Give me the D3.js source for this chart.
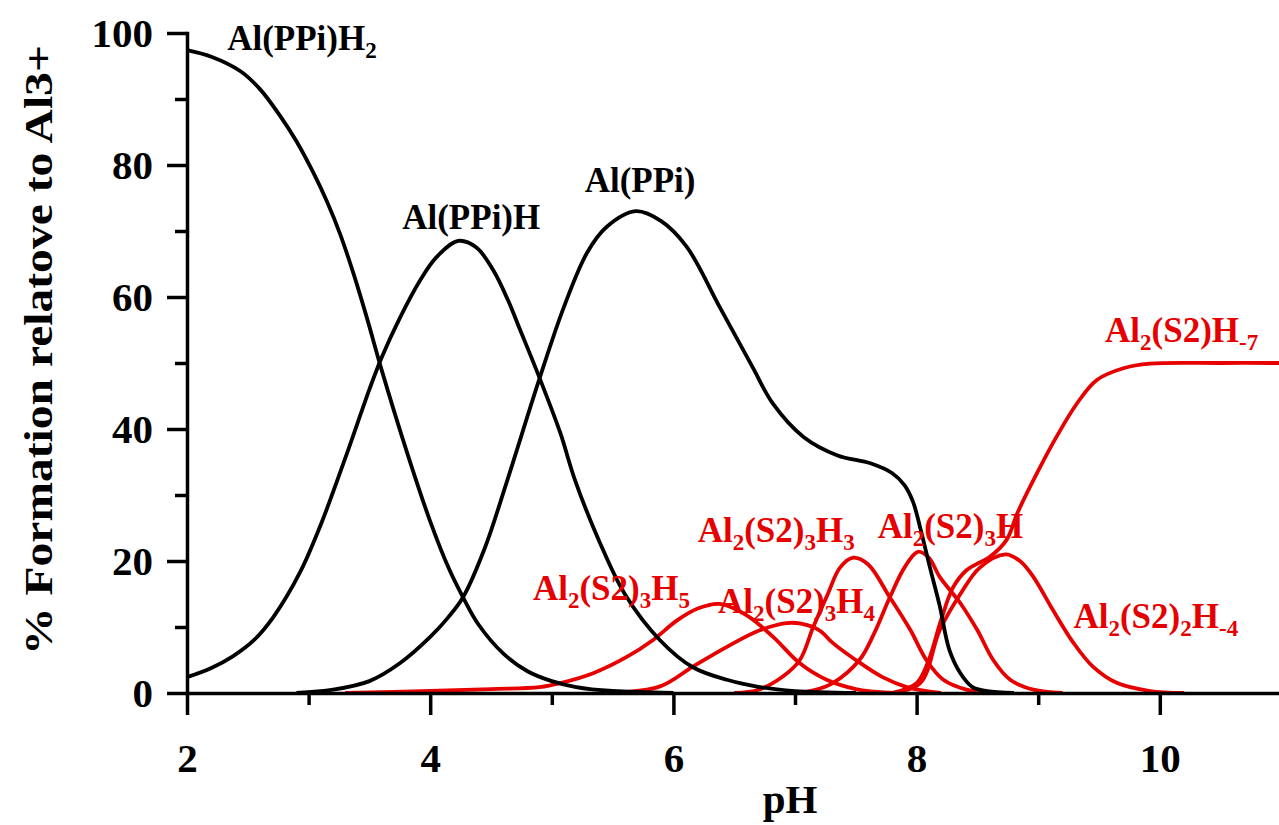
<!DOCTYPE html>
<html>
<head>
  <meta charset="utf-8">
  <title>Al speciation vs pH</title>
  <style>
    body{
      margin: 0;
      padding: 0;
      background-color: #fff;
    }
    .chart text{
      font-family: "Liberation Serif", "Times New Roman", serif;
      font-weight: bold;
    }
    .axis path, .axis line{
      stroke: #000;
      stroke-width: 3.5;
    }
    .axis text{
      font-size: 41px;
      fill: #000;
    }
    .curve{
      fill: none;
      stroke-width: 3.8;
      stroke-linejoin: round;
    }
  </style>
</head>
<body>
<svg class="chart"></svg>

<script src="https://cdn.jsdelivr.net/npm/d3@7"></script>
<script>

// tick values
var xMajor = [2, 4, 6, 8, 10],
    xMinor = [3, 5, 7, 9, 11],
    yMajor = [0, 20, 40, 60, 80, 100],
    yMinor = [10, 30, 50, 70, 90];

// [pH, % formation]
var alPPiH2 = [[2.0,97.4],[2.2,96.4],[2.44,94.2],[2.6,91.5],[2.76,87.6],[2.9,83.6],[3.04,78.8],[3.15,74.5],
  [3.26,69.5],[3.37,63.5],[3.48,56.8],[3.6,49],[3.8,37],[4.0,26],[4.15,19],[4.27,14.5],[4.4,10.3],
  [4.6,6],[4.8,3.3],[5.0,1.8],[5.2,0.9],[5.5,0.3],[6.0,0]];

var alPPiH = [[2.0,2.4],[2.2,3.8],[2.38,5.6],[2.55,8],[2.71,11.5],[2.93,18.3],[3.1,25.5],[3.3,35.5],
  [3.5,46],[3.6,50.8],[3.75,56.8],[3.92,62.6],[4.05,66],[4.23,68.5],[4.38,67.5],[4.52,64],[4.64,59.5],
  [4.74,55],[4.9,47.7],[5.07,39.4],[5.19,32.3],[5.39,23],[5.6,15],[5.89,8],[6.16,3.9],[6.44,2],
  [6.71,0.9],[7.0,0.3],[7.5,0]];

var alPPi = [[2.9,0],[3.2,0.5],[3.5,1.8],[3.75,4.5],[4.0,8.5],[4.15,11.5],[4.27,14.5],[4.45,22],
  [4.63,32],[4.9,47.7],[5.1,58.5],[5.29,66.7],[5.45,70.6],[5.69,73],[5.9,71.5],[6.11,67.6],
  [6.38,58.5],[6.65,49.4],[6.82,43.8],[7.07,38.8],[7.35,36],[7.62,34.8],[7.8,33.3],[7.9,31.5],
  [7.97,29],[8.03,25],[8.11,19],[8.19,13.2],[8.27,6.5],[8.36,3],[8.46,0.9],[8.58,0.3],[8.8,0]];

var al2S23H5 = [[3.3,0],[4.0,0.3],[4.5,0.6],[4.9,0.9],[5.07,1.5],[5.34,3],[5.62,5.5],[5.83,8],
  [6.03,11],[6.2,12.8],[6.38,13.5],[6.6,11.8],[6.82,8.5],[7.04,4.5],[7.26,2],[7.5,0.6],[7.8,0]];

var al2S23H4 = [[5.5,0],[5.89,1],[6.16,4],[6.44,7],[6.71,9.5],[6.93,10.6],[7.05,10.5],[7.2,9.5],
  [7.31,7.6],[7.5,5],[7.72,2.4],[7.92,0.9],[8.2,0]];

var al2S23H3 = [[6.5,0],[6.7,0.5],[6.9,2.5],[7.04,5],[7.15,10],[7.27,15],[7.37,19],[7.48,20.5],
  [7.6,19.5],[7.78,14.5],[7.95,9.5],[8.08,5],[8.22,2],[8.41,0.5],[8.6,0]];

var al2S23H = [[7.0,0],[7.15,0.4],[7.31,1.5],[7.53,5],[7.65,9],[7.78,14.5],[7.9,19],[8.01,21.4],
  [8.1,20.5],[8.19,17.6],[8.36,13.6],[8.5,9.5],[8.63,5],[8.77,2],[8.96,0.5],[9.2,0]];

var al2S22Hm4 = [[7.8,0],[8.03,1.5],[8.19,9.5],[8.36,15],[8.52,19],[8.73,21],[8.85,20],[8.96,17.6],
  [9.12,12.6],[9.29,7.6],[9.45,4],[9.65,1.5],[9.92,0.3],[10.2,0]];

var al2S2Hm7 = [[7.8,0],[8.0,1.5],[8.1,5],[8.2,11],[8.3,16],[8.41,18.6],[8.5,19.6],[8.6,20.6],
  [8.74,23.2],[8.83,27.3],[8.99,33.3],[9.15,38.8],[9.32,43.9],[9.48,47.4],[9.7,49.2],[9.92,49.9],
  [10.5,50],[11,50]];

var blackSeries = [alPPiH2, alPPiH, alPPi];
var redSeries = [al2S23H5, al2S23H4, al2S23H3, al2S23H, al2S22Hm4, al2S2Hm7];

// curve labels: text pieces (1 = subscript), anchored at [pH, %]
var labels = [
  {at: [2.33, 97.4], color: "#000", parts: [["Al(PPi)H"], ["2", 1]]},
  {at: [3.77, 70.3], color: "#000", parts: [["Al(PPi)H"]]},
  {at: [5.27, 75.9], color: "#000", parts: [["Al(PPi)"]]},
  {at: [4.845, 14.1], color: "red", parts: [["Al"], ["2", 1], ["(S2)"], ["3", 1], ["H"], ["5", 1]]},
  {at: [6.367, 12.1], color: "red", parts: [["Al"], ["2", 1], ["(S2)"], ["3", 1], ["H"], ["4", 1]]},
  {at: [6.2, 22.9], color: "red", parts: [["Al"], ["2", 1], ["(S2)"], ["3", 1], ["H"], ["3", 1]]},
  {at: [7.68, 23.5], color: "red", parts: [["Al"], ["2", 1], ["(S2)"], ["3", 1], ["H"]]},
  {at: [9.55, 53.2], color: "red", parts: [["Al"], ["2", 1], ["(S2)H"], ["-7", 1]]},
  {at: [9.29, 9.85], color: "red", parts: [["Al"], ["2", 1], ["(S2)"], ["2", 1], ["H"], ["-4", 1]]}
];

var W = 1279, H = 825;
var red = "#e60000";

var svg = d3.select(".chart")
    .attr("width", W)
    .attr("height", H);

svg.append("rect").attr("width", W).attr("height", H).attr("fill", "#fff");

var x = d3.scaleLinear().domain([2, 11]).range([187, 1281.4]);
var y = d3.scaleLinear().domain([0, 100]).range([693, 33]);

var line = d3.line()
    .x(function(d) { return x(d[0]); })
    .y(function(d) { return y(d[1]); })
    .curve(d3.curveCatmullRom.alpha(0.5));

// curves
svg.selectAll(".curve.red")
    .data(redSeries)
    .enter().append("path")
    .attr("class", "curve red")
    .attr("stroke", red)
    .attr("d", line);

svg.selectAll(".curve.black")
    .data(blackSeries)
    .enter().append("path")
    .attr("class", "curve black")
    .attr("stroke", "#000")
    .attr("d", line);

// axes
svg.append("g")
    .attr("class", "axis")
    .attr("transform", "translate(0," + y(0) + ")")
    .call(d3.axisBottom(x).tickValues(xMajor).tickSize(22).tickSizeOuter(0).tickPadding(28)
      .tickFormat(d3.format("d")));

svg.append("g")
    .attr("class", "axis")
    .attr("transform", "translate(0," + y(0) + ")")
    .call(d3.axisBottom(x).tickValues(xMinor).tickSize(12).tickSizeOuter(0).tickFormat(""))
    .select(".domain").remove();

svg.append("g")
    .attr("class", "axis")
    .attr("transform", "translate(" + x(2) + ",0)")
    .call(d3.axisLeft(y).tickValues(yMajor).tickSize(20).tickSizeOuter(0).tickPadding(14));

svg.append("g")
    .attr("class", "axis")
    .attr("transform", "translate(" + x(2) + ",0)")
    .call(d3.axisLeft(y).tickValues(yMinor).tickSize(12).tickSizeOuter(0).tickFormat(""))
    .select(".domain").remove();

svg.selectAll(".axis .domain").attr("stroke-linecap", "square");
svg.selectAll(".axis text").attr("font-family", null).attr("font-size", null);

// axis titles
svg.append("text")
    .attr("x", 790)
    .attr("y", 813)
    .attr("text-anchor", "middle")
    .attr("font-size", 41)
    .text("pH");

svg.append("text")
    .attr("transform", "translate(52,350) rotate(-90)")
    .attr("text-anchor", "middle")
    .attr("font-size", 40)
    .attr("textLength", 610)
    .attr("lengthAdjust", "spacingAndGlyphs")
    .text("% Formation relatove to Al3+");

// curve labels
labels.forEach(function(l) {
  var t = svg.append("text")
      .attr("x", x(l.at[0]))
      .attr("y", y(l.at[1]))
      .attr("fill", l.color === "red" ? red : "#000")
      .attr("font-size", 35);
  var shifted = false;
  l.parts.forEach(function(p) {
    var s = t.append("tspan").text(p[0]);
    if (p[1] && !shifted) { s.attr("dy", 8).attr("font-size", 23); shifted = true; }
    else if (p[1]) { s.attr("font-size", 23); }
    else if (shifted) { s.attr("dy", -8); shifted = false; }
  });
});

</script>
</body>
</html>
